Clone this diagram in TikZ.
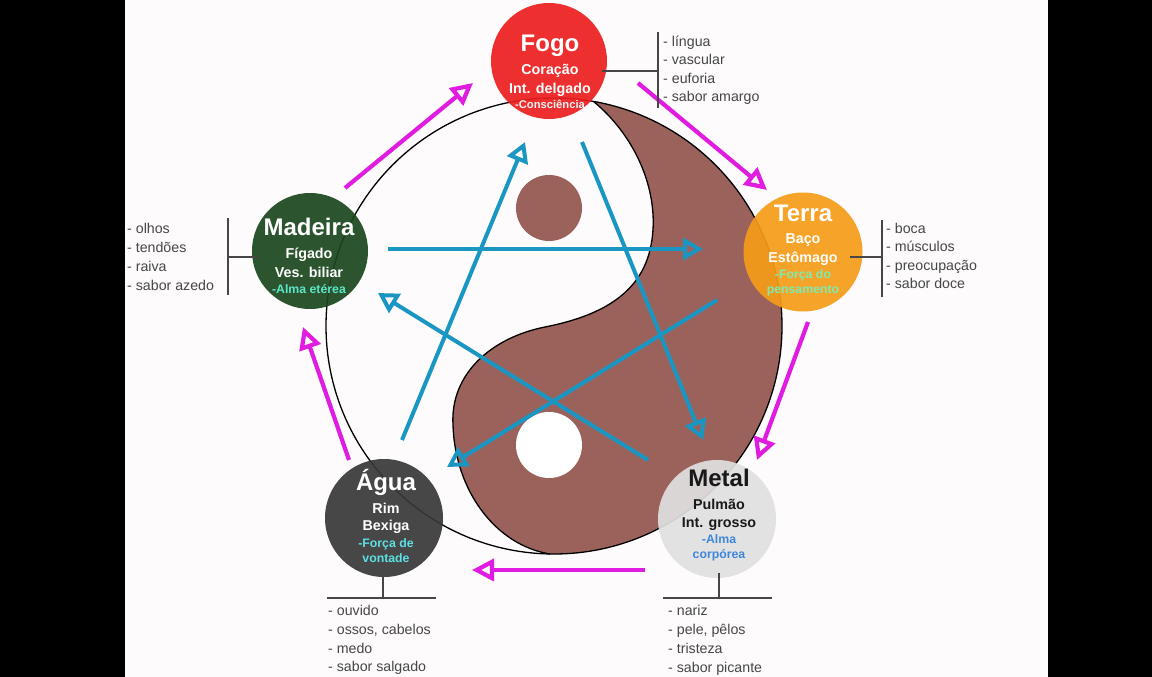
\documentclass[tikz,border=0pt]{standalone}
\usepackage{fontspec}
\setmainfont{Liberation Sans}
\usetikzlibrary{arrows.meta}
\definecolor{bgc}{HTML}{FDFBFB}
\definecolor{brownc}{HTML}{9B625C}
\definecolor{fogoc}{HTML}{EC1E1E}
\definecolor{terrac}{HTML}{F59C18}
\definecolor{madc}{HTML}{1B461E}
\definecolor{aguac}{HTML}{383838}
\definecolor{metalc}{HTML}{E0E0E0}
\definecolor{magc}{HTML}{E01CE0}
\definecolor{bluec}{HTML}{1A96C2}
\definecolor{listc}{HTML}{464646}
\definecolor{tealc}{HTML}{5BE6C8}
\definecolor{greenc}{HTML}{7EEBB0}
\definecolor{cyanc}{HTML}{5CE0E4}
\definecolor{metblue}{HTML}{3F86DA}
\definecolor{pale}{HTML}{EAF4F4}
\tikzset{
  elem/.style={circle, inner sep=0pt, outer sep=0pt, minimum size=118pt, fill opacity=0.92},
  ttl/.style={font=\fontsize{24}{26}\selectfont\bfseries, inner sep=0pt, anchor=base},
  sub/.style={font=\fontsize{14.3}{16}\selectfont\bfseries, inner sep=0pt, anchor=base},
  qual/.style={font=\fontsize{12.3}{14}\selectfont\bfseries, inner sep=0pt, anchor=base},
  item/.style={font=\fontsize{14.2}{16}\selectfont, text=listc, inner sep=0pt, anchor=base west},
  brk/.style={draw=listc, line width=1.5pt},
  magarrow/.style={draw=magc, line width=4.2pt, -{Triangle[open, length=22pt, width=22pt]}},
  bluearrow/.style={draw=bluec, line width=4pt, -{Triangle[open, length=20pt, width=22pt]}}
}
\begin{document}
\begin{tikzpicture}[x=1pt,y=-1pt]
\useasboundingbox (0,0) rectangle (1152,677);
\fill[black] (0,0) rectangle (125,677);
\fill[black] (1048,0) rectangle (1152,677);
\fill[bgc] (125,0) rectangle (1048,677);

% yin-yang
\coordinate (C) at (554,326);
\fill[brownc] (593.6,101.5) arc[start angle=-80, end angle=91, radius=228]
  .. controls (495,545) and (455,490) .. (453,425)
  .. controls (450,375) and (490,338) .. (545,327)
  .. controls (590,318) and (638,300) .. (650,250)
  .. controls (662,200) and (640,140) .. (593.6,101.5) -- cycle;
\draw[black, line width=1.3pt] (C) circle[radius=228];
\draw[black, line width=1.3pt] (550,554)
  .. controls (495,545) and (455,490) .. (453,425)
  .. controls (450,375) and (490,338) .. (545,327)
  .. controls (590,318) and (638,300) .. (650,250)
  .. controls (662,200) and (640,140) .. (593.6,101.5);
\fill[brownc] (549,208) circle[radius=33];
\fill[white] (549,445) circle[radius=33];

% element circles
\node[elem, fill=fogoc, minimum size=116pt] (fogo) at (549,61) {};
\node[elem, fill=terrac, minimum size=119pt] (terra) at (803,252) {};
\node[elem, fill=madc, minimum size=116pt] (madeira) at (310,251) {};
\node[elem, fill=aguac] (agua) at (384,518) {};
\node[elem, fill=metalc] (metal) at (717,519) {};

% magenta cycle arrows
\coordinate (m1a) at (345,188); \coordinate (m1b) at (473,83);
\coordinate (m2a) at (638,83);  \coordinate (m2b) at (767,190);
\coordinate (m3a) at (808,322); \coordinate (m3b) at (757,460);
\coordinate (m4a) at (645,570); \coordinate (m4b) at (472,570);
\coordinate (m5a) at (349,460); \coordinate (m5b) at (303,327);
\draw[magarrow] (m1a) -- (m1b);
\draw[magarrow] (m2a) -- (m2b);
\draw[magarrow] (m3a) -- (m3b);
\draw[magarrow] (m4a) -- (m4b);
\draw[magarrow] (m5a) -- (m5b);

% blue star arrows
\coordinate (b1a) at (388,249); \coordinate (b1b) at (703,249);
\coordinate (b2a) at (582,142); \coordinate (b2b) at (703,440);
\coordinate (b3a) at (717,300); \coordinate (b3b) at (447,467);
\coordinate (b4a) at (648,460); \coordinate (b4b) at (378,293);
\coordinate (b5a) at (402,440); \coordinate (b5b) at (525,142);
\draw[bluearrow] (b1a) -- (b1b);
\draw[bluearrow] (b2a) -- (b2b);
\draw[bluearrow] (b3a) -- (b3b);
\draw[bluearrow] (b4a) -- (b4b);
\draw[bluearrow] (b5a) -- (b5b);

% Fogo text
\node[ttl, text=white] (fogoT) at (550,52) {Fogo};
\node[sub, text=white] (fogo1) at (550,75) {Coração};
\node[sub, text=white] (fogo2) at (550,93) {Int. delgado};
\node[qual, text=pale, font=\fontsize{11.2}{13}\selectfont\bfseries] (fogo3) at (550,108) {-Consciência};
% Terra text
\node[ttl, text=white] (terraT) at (803,221) {Terra};
\node[sub, text=white] (terra1) at (803,243) {Baço};
\node[sub, text=white] (terra2) at (803,262) {Estômago};
\node[qual, text=greenc] (terra3) at (803,278) {-Força do};
\node[qual, text=greenc] (terra4) at (803,293) {pensamento};
% Madeira text
\node[ttl, text=white] (madT) at (309,235) {Madeira};
\node[sub, text=white] (mad1) at (309,258) {Fígado};
\node[sub, text=white] (mad2) at (309,277) {Ves. biliar};
\node[qual, text=tealc] (mad3) at (309,293) {-Alma etérea};
% Agua text
\node[ttl, text=white] (aguaT) at (386,490) {Água};
\node[sub, text=white] (agua1) at (386,513) {Rim};
\node[sub, text=white] (agua2) at (386,530) {Bexiga};
\node[qual, text=cyanc] (agua3) at (386,547) {-Força de};
\node[qual, text=cyanc] (agua4) at (386,562) {vontade};
% Metal text
\node[ttl, text=black!90] (metT) at (719,486) {Metal};
\node[sub, text=black!90] (met1) at (719,509) {Pulmão};
\node[sub, text=black!90] (met2) at (719,527) {Int. grosso};
\node[qual, text=metblue] (met3) at (719,543) {-Alma};
\node[qual, text=metblue] (met4) at (719,558) {corpórea};

% brackets and lists
\coordinate (fb1) at (602,71); \coordinate (fb2) at (658,71);
\coordinate (fv1) at (658,32); \coordinate (fv2) at (658,108);
\draw[brk] (fb1) -- (fb2); \draw[brk] (fv1) -- (fv2);
\node[item] (fl1) at (663,47) {- língua};
\node[item] (fl2) at (663,65) {- vascular};
\node[item] (fl3) at (663,84) {- euforia};
\node[item] (fl4) at (663,102) {- sabor amargo};

\coordinate (tb1) at (850,257); \coordinate (tb2) at (882,257);
\coordinate (tv1) at (882,220); \coordinate (tv2) at (882,297);
\draw[brk] (tb1) -- (tb2); \draw[brk] (tv1) -- (tv2);
\node[item] (tl1) at (886,233) {- boca};
\node[item] (tl2) at (886,251) {- músculos};
\node[item] (tl3) at (886,270) {- preocupação};
\node[item] (tl4) at (886,288) {- sabor doce};

\coordinate (mb1) at (228,257); \coordinate (mb2) at (258,257);
\coordinate (mv1) at (228,218); \coordinate (mv2) at (228,295);
\draw[brk] (mb1) -- (mb2); \draw[brk] (mv1) -- (mv2);
\node[item] (ml1) at (127,233) {- olhos};
\node[item] (ml2) at (127,252) {- tendões};
\node[item] (ml3) at (127,271) {- raiva};
\node[item] (ml4) at (127,290) {- sabor azedo};

\coordinate (ab1) at (383,573); \coordinate (ab2) at (383,598);
\coordinate (ah1) at (327,598); \coordinate (ah2) at (436,598);
\draw[brk] (ab1) -- (ab2); \draw[brk] (ah1) -- (ah2);
\node[item] (al1) at (328,615) {- ouvido};
\node[item] (al2) at (328,634) {- ossos, cabelos};
\node[item] (al3) at (328,653) {- medo};
\node[item] (al4) at (328,671) {- sabor salgado};

\coordinate (xb1) at (719,573); \coordinate (xb2) at (719,598);
\coordinate (xh1) at (663,598); \coordinate (xh2) at (772,598);
\draw[brk] (xb1) -- (xb2); \draw[brk] (xh1) -- (xh2);
\node[item] (xl1) at (668,615) {- nariz};
\node[item] (xl2) at (668,634) {- pele, pêlos};
\node[item] (xl3) at (668,653) {- tristeza};
\node[item] (xl4) at (668,672) {- sabor picante};
\end{tikzpicture}
\end{document}
